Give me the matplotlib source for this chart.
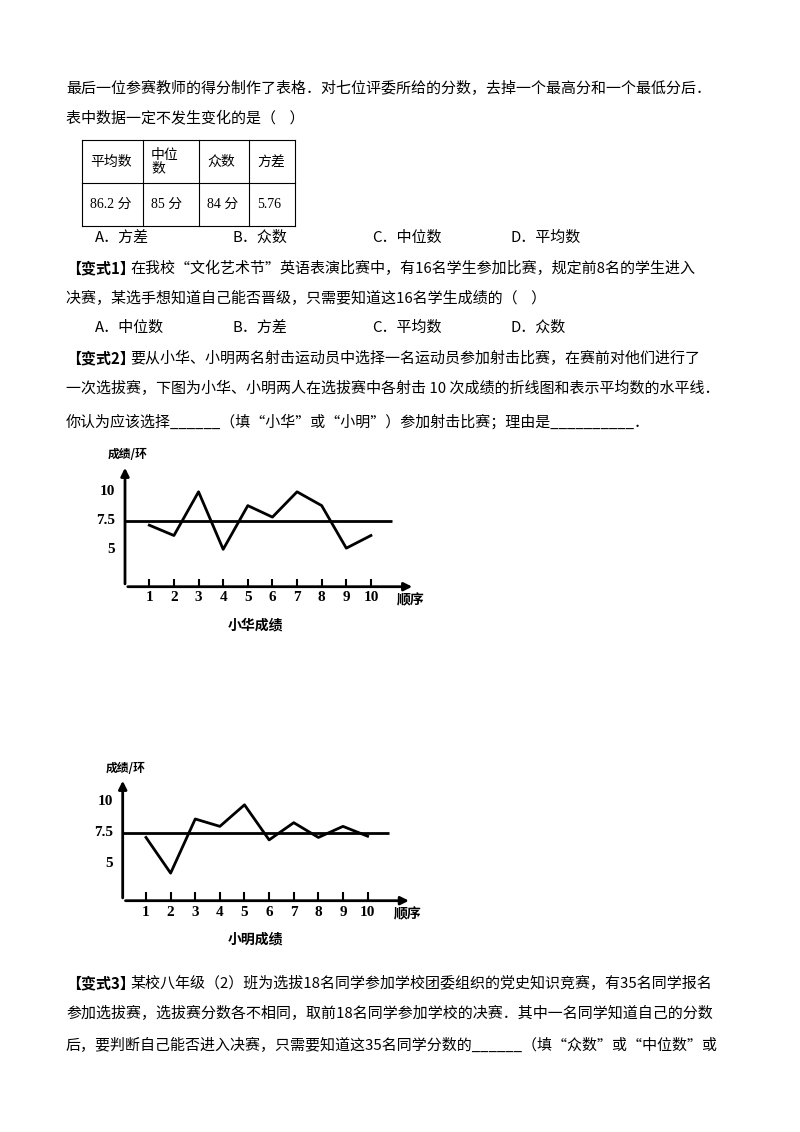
import matplotlib
matplotlib.use("Agg")
import matplotlib.pyplot as plt

plt.rcParams['font.family'] = ['Noto Sans CJK SC', 'DejaVu Sans']

order = list(range(1, 11))
xiaohua = [7.1, 6.2, 10, 5, 8.8, 7.8, 10, 8.8, 5.1, 6.2]
xiaoming = [7.1, 4.2, 8.6, 8.0, 9.75, 6.9, 8.3, 7.1, 8.0, 7.2]
mean_score = 7.5
ytick_vals = [5, 7.5, 10]
ytick_labels = ["5", "7.5", "10"]
table_head = ["平均数", "中位\n数", "众数", "方差"]
table_vals = ["86.2 分", "85 分", "84 分", "5.76"]

W, H = 800, 1132
fig = plt.figure(figsize=(8, 11.32), dpi=100)

def T(x, y, s, size=10.5, **kw):
    fig.text(x / W, 1 - y / H, s, fontsize=size, va='center', **kw)

FS = 10.8
T(66, 88, "最后一位参赛教师的得分制作了表格．对七位评委所给的分数，去掉一个最高分和一个最低分后．", FS)
T(66, 118, "表中数据一定不发生变化的是（    ）", FS)

tax = fig.add_axes([0, 0, 1, 1]); tax.set_xlim(0, W); tax.set_ylim(H, 0); tax.axis('off')
cols = [82, 143, 199, 249, 295]
rows = [140, 183, 226]
for c in cols:
    tax.plot([c, c], [rows[0], rows[-1]], color='black', lw=0.8)
for r in rows:
    tax.plot([cols[0], cols[-1]], [r, r], color='black', lw=0.8)
for i in range(4):
    tax.text(cols[i] + 8, (rows[0] + rows[1]) / 2, table_head[i], fontsize=10, va='center', linespacing=1.0)
    tax.text(cols[i] + 8, (rows[1] + rows[2]) / 2, table_vals[i], fontsize=10, va='center',
             family=['Liberation Serif', 'Noto Sans CJK SC'])

for x, s in zip([95, 233, 372, 511], ["A．方差", "B．众数", "C．中位数", "D．平均数"]):
    T(x, 238, s, FS)
T(66, 268, "【变式1】", FS, weight='bold')
T(130, 268, "在我校“文化艺术节”英语表演比赛中，有16名学生参加比赛，规定前8名的学生进入", FS)
T(66, 298, "决赛，某选手想知道自己能否晋级，只需要知道这16名学生成绩的（    ）", FS)
for x, s in zip([95, 233, 372, 511], ["A．中位数", "B．方差", "C．平均数", "D．众数"]):
    T(x, 328, s, FS)
T(66, 358, "【变式2】", FS, weight='bold')
T(130, 358, "要从小华、小明两名射击运动员中选择一名运动员参加射击比赛，在赛前对他们进行了", FS)
T(66, 388, "一次选拔赛，下图为小华、小明两人在选拔赛中各射击 10 次成绩的折线图和表示平均数的水平线．", FS)
T(66, 422, "你认为应该选择______（填“小华”或“小明”）参加射击比赛；理由是__________．", FS)
T(66, 983, "【变式3】", FS, weight='bold')
T(130, 983, "某校八年级（2）班为选拔18名同学参加学校团委组织的党史知识竞赛，有35名同学报名", FS)
T(66, 1013, "参加选拔赛，选拔赛分数各不相同，取前18名同学参加学校的决赛．其中一名同学知道自己的分数", FS)
T(66, 1045, "后，要判断自己能否进入决赛，只需要知道这35名同学分数的______（填“众数”或“中位数”或", FS)

serif = ['Liberation Serif', 'DejaVu Serif']

def chart(left, right, top, bottom, xlim, ylim, data, line_end, caption, cap_x):
    ax = fig.add_axes([left / W, 1 - bottom / H, (right - left) / W, (bottom - top) / H])
    ax.set_xlim(*xlim); ax.set_ylim(*ylim)
    ax.axis('off')
    x0, y0 = xlim[0], ylim[0]
    ax.annotate('', xy=(xlim[1], y0), xytext=(x0, y0),
                arrowprops=dict(arrowstyle='-|>', color='black', lw=2, mutation_scale=12))
    ax.annotate('', xy=(x0, ylim[1]), xytext=(x0, y0),
                arrowprops=dict(arrowstyle='-|>', color='black', lw=2, mutation_scale=12))
    ax.vlines(order, y0, y0 + 0.7, color='black', lw=1.5)
    ax.hlines(mean_score, x0, line_end, color='black', lw=2)
    ax.plot(order, data, color='black', lw=2)
    for xv in order:
        ax.text(xv, y0 - 0.4, str(xv), ha='center', va='top', fontsize=11, weight='bold', family=serif)
    for v, l in zip(ytick_vals, ytick_labels):
        ax.text(x0 - 0.4, v, l, ha='right', va='center', fontsize=11, weight='bold', family=serif)
    T(left - 17, top - 10, "成绩/环", 8.5, weight='bold')
    T(right - 18, bottom + 14, "顺序", 10, weight='bold')
    T(cap_x, bottom + 39, caption, 10, weight='bold')

chart(125, 415, 465, 586.7, (0.013, 11.79), (1.75, 12.33), xiaohua, 10.85, "小华成绩", 228)
chart(122.7, 411.7, 778, 900.7, (0.054, 11.79), (1.96, 11.93), xiaoming, 10.87, "小明成绩", 228)

fig.savefig("out.png", dpi=100)
